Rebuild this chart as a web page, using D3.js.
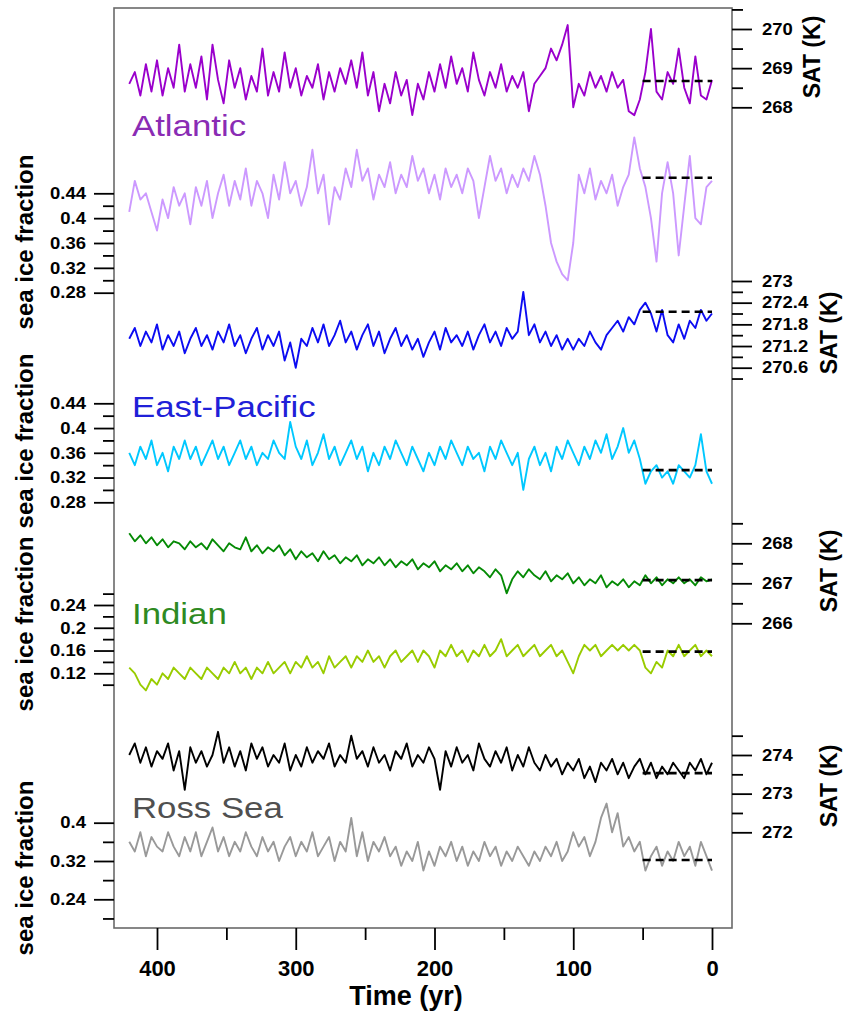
<!DOCTYPE html>
<html><head><meta charset="utf-8">
<script src="https://cdn.jsdelivr.net/npm/d3@7"></script>
<style>
html,body{margin:0;padding:0;background:#fff;}
svg{display:block;}
text{font-family:"Liberation Sans",Arial,sans-serif;}
</style></head><body>
<svg id="chart" width="843" height="1014"></svg>
<script>
// ---------------- DATA ----------------
// sample years, 420 yr ago to present, every 4 years
const years = d3.range(420, -1, -4);
const xTicksMajor = [400, 300, 200, 100, 0];
const xTicksMinor = [350, 250, 150, 50];
const regionNames = ["Atlantic", "East-Pacific", "Indian", "Ross Sea"];

const atlanticSAT = [
268.6,268.9,268.3,269.1,268.4,269.2,268.3,269.0,268.5,269.6,
268.4,269.1,268.5,269.3,268.2,269.6,268.7,268.1,269.2,268.5,
269.0,268.2,268.8,268.4,269.5,268.3,268.9,268.4,269.4,268.5,
269.0,268.3,268.8,268.5,269.1,268.2,268.9,268.4,269.0,268.6,
269.2,268.5,269.4,268.3,268.9,267.9,268.6,268.1,268.9,268.3,
268.7,267.8,268.6,268.2,268.9,268.4,269.1,268.5,269.3,268.6,
269.0,268.4,269.4,268.7,268.3,268.9,268.5,269.1,268.4,268.8,
268.5,268.9,267.9,268.6,268.8,269.0,269.5,269.2,269.6,270.1,
268.0,268.6,268.3,268.9,268.5,268.8,268.4,268.9,268.5,268.7,
267.9,267.8,268.2,268.9,270.0,268.4,268.2,268.9,268.6,269.5,
268.5,268.1,269.3,268.3,268.2,268.7];

const atlanticIce = [
0.41,0.46,0.43,0.44,0.41,0.38,0.43,0.40,0.45,0.42,
0.44,0.39,0.45,0.42,0.46,0.40,0.44,0.47,0.42,0.46,
0.43,0.48,0.42,0.46,0.44,0.40,0.47,0.43,0.49,0.44,
0.46,0.42,0.45,0.51,0.44,0.47,0.39,0.45,0.43,0.48,
0.45,0.51,0.46,0.48,0.43,0.47,0.45,0.49,0.44,0.47,
0.45,0.50,0.46,0.48,0.44,0.47,0.43,0.48,0.45,0.47,
0.44,0.48,0.46,0.40,0.45,0.50,0.46,0.48,0.44,0.47,
0.45,0.48,0.46,0.50,0.47,0.42,0.36,0.33,0.31,0.30,
0.36,0.47,0.44,0.48,0.43,0.46,0.44,0.47,0.42,0.45,
0.47,0.53,0.48,0.45,0.40,0.33,0.44,0.49,0.44,0.34,
0.42,0.50,0.40,0.39,0.45,0.46];

const eastPacificSAT = [
271.4,271.7,271.2,271.6,271.3,271.8,271.1,271.5,271.2,271.6,
271.0,271.4,271.7,271.2,271.5,271.1,271.6,271.3,271.8,271.2,
271.5,271.0,271.4,271.7,271.1,271.5,271.2,271.6,270.8,271.3,
270.6,271.4,271.2,271.7,271.3,271.8,271.2,271.5,271.9,271.3,
271.6,271.1,271.5,271.8,271.2,271.6,271.0,271.4,271.7,271.2,
271.5,271.1,271.4,270.9,271.3,271.6,271.1,271.7,271.3,271.5,
271.2,271.6,271.1,271.5,271.8,271.3,271.6,271.2,271.7,271.4,
271.6,272.7,271.5,271.8,271.3,271.6,271.2,271.5,271.1,271.4,
271.1,271.4,271.2,271.6,271.3,271.1,271.5,271.7,271.9,271.6,
272.0,271.8,272.2,272.4,272.1,271.6,272.2,271.5,271.3,271.8,
271.4,271.9,271.7,272.2,271.9,272.1];

const eastPacificIce = [
0.36,0.34,0.37,0.35,0.38,0.34,0.36,0.33,0.37,0.35,
0.38,0.35,0.37,0.34,0.36,0.38,0.35,0.37,0.34,0.36,
0.38,0.35,0.37,0.34,0.36,0.35,0.38,0.36,0.35,0.41,
0.37,0.35,0.38,0.34,0.36,0.39,0.35,0.37,0.34,0.36,
0.38,0.35,0.37,0.33,0.36,0.34,0.37,0.35,0.38,0.36,
0.34,0.37,0.35,0.33,0.36,0.34,0.37,0.35,0.38,0.36,
0.34,0.37,0.35,0.36,0.33,0.37,0.35,0.38,0.36,0.34,
0.36,0.30,0.35,0.37,0.34,0.36,0.33,0.37,0.35,0.38,
0.36,0.34,0.37,0.35,0.38,0.36,0.39,0.35,0.37,0.40,
0.36,0.38,0.35,0.31,0.33,0.34,0.32,0.33,0.31,0.34,
0.33,0.32,0.34,0.39,0.33,0.31];

const indianSAT = [
268.25,268.05,268.2,268.0,268.15,267.95,268.1,267.9,268.05,268.0,
267.85,268.05,267.9,268.0,267.85,268.1,267.95,267.8,268.0,267.9,
267.85,268.15,267.8,267.95,267.75,267.9,267.8,267.95,267.7,267.85,
267.6,267.8,267.65,267.75,267.55,267.8,267.6,267.7,267.5,267.65,
267.55,267.7,267.45,267.6,267.5,267.65,267.45,267.6,267.4,267.55,
267.45,267.6,267.35,267.5,267.4,267.55,267.3,267.45,267.35,267.5,
267.3,267.45,267.25,267.4,267.3,267.15,267.35,267.2,266.75,267.1,
267.3,267.15,267.35,267.2,267.1,267.3,267.05,267.2,267.1,267.25,
267.0,267.15,266.95,267.1,267.0,267.2,266.9,267.05,266.95,267.1,
266.9,267.05,266.95,267.2,267.0,267.15,266.95,267.1,267.0,267.15,
267.0,267.1,266.95,267.15,267.05,267.1];

const indianIce = [
0.13,0.12,0.10,0.09,0.11,0.10,0.12,0.11,0.13,0.12,
0.11,0.13,0.12,0.11,0.13,0.12,0.11,0.13,0.12,0.14,
0.12,0.13,0.11,0.13,0.12,0.14,0.12,0.13,0.14,0.12,
0.14,0.13,0.15,0.13,0.14,0.12,0.15,0.13,0.14,0.15,
0.13,0.15,0.14,0.16,0.14,0.15,0.13,0.15,0.16,0.14,
0.15,0.16,0.14,0.16,0.15,0.13,0.16,0.15,0.17,0.15,
0.16,0.14,0.16,0.15,0.17,0.15,0.16,0.18,0.15,0.16,
0.17,0.15,0.16,0.17,0.15,0.16,0.17,0.15,0.16,0.14,
0.12,0.15,0.17,0.16,0.17,0.15,0.16,0.17,0.16,0.17,
0.16,0.17,0.16,0.13,0.12,0.14,0.13,0.16,0.15,0.17,
0.15,0.16,0.17,0.15,0.16,0.15];

const rossSAT = [
274.0,274.3,273.8,274.2,273.7,274.1,273.9,274.3,273.6,274.1,
273.1,274.2,273.8,274.1,273.7,274.0,274.6,273.8,274.2,273.7,
274.1,273.6,274.3,273.9,274.2,273.7,274.0,273.8,274.3,273.6,
274.0,273.7,274.2,273.8,274.1,273.9,274.3,273.7,274.0,273.8,
274.5,273.9,274.1,273.7,274.2,273.8,274.0,273.6,274.1,273.9,
274.3,273.7,274.0,273.8,274.2,273.9,273.1,274.1,273.7,274.2,
273.8,274.0,273.6,274.3,273.9,273.7,274.1,273.8,274.2,273.6,
274.0,273.7,274.2,273.8,273.6,274.0,273.7,273.9,273.5,273.8,
273.6,273.9,273.4,273.7,273.3,273.8,273.6,273.9,273.5,273.8,
273.4,273.7,273.9,273.5,273.8,273.4,273.7,273.5,273.8,273.6,
273.4,273.8,273.6,273.9,273.5,273.8];

const rossIce = [
0.36,0.34,0.38,0.33,0.37,0.35,0.34,0.38,0.35,0.33,
0.37,0.34,0.38,0.33,0.36,0.39,0.34,0.37,0.33,0.36,
0.34,0.38,0.35,0.33,0.37,0.34,0.36,0.32,0.35,0.37,
0.33,0.36,0.34,0.38,0.33,0.35,0.37,0.32,0.36,0.34,
0.41,0.33,0.38,0.32,0.36,0.34,0.37,0.33,0.35,0.31,
0.34,0.32,0.36,0.30,0.34,0.31,0.35,0.33,0.36,0.32,
0.35,0.31,0.34,0.32,0.36,0.33,0.35,0.31,0.34,0.32,
0.35,0.33,0.31,0.34,0.32,0.35,0.33,0.36,0.32,0.34,
0.38,0.35,0.37,0.33,0.36,0.41,0.44,0.38,0.42,0.35,
0.37,0.34,0.36,0.30,0.33,0.35,0.31,0.34,0.32,0.36,
0.33,0.35,0.31,0.36,0.33,0.30];

// reference-period means (dashed lines, last 50 years)
const meanLevels = [268.67, 0.465, 272.15, 0.332, 267.08, 0.158, 273.53, 0.322];
const meanSpan = [50, 0];

// ---------------- LAYOUT ----------------
const svg = d3.select("#chart");
const box = {l: 114, r: 732, t: 8, b: 928};
const x = d3.scaleLinear().domain([400, 0]).range([157, 712]);
const fmt = d => String(+d.toFixed(2));

const panels = [
 {vals: atlanticSAT, color: "#9a00cc", side: "right", dom: [268, 270], rng: [107.3, 29],
  major: [268, 269, 270], minor: [268.5, 269.5, 270.5], title: "SAT (K)", tx: 820, ty: 57},
 {vals: atlanticIce, color: "#cc99ff", side: "left", dom: [0.28, 0.44], rng: [292.7, 193.3],
  major: [0.28, 0.32, 0.36, 0.4, 0.44], minor: [0.30, 0.34, 0.38, 0.42], title: "sea ice fraction", tx: 33, ty: 242},
 {vals: eastPacificSAT, color: "#0c0cf2", side: "right", dom: [270.6, 273], rng: [367.7, 281],
  major: [270.6, 271.2, 271.8, 272.4, 273], minor: [270.3, 270.9, 271.5, 272.1, 272.7], title: "SAT (K)", tx: 837, ty: 333},
 {vals: eastPacificIce, color: "#00c8ff", side: "left", dom: [0.28, 0.44], rng: [502.3, 403.3],
  major: [0.28, 0.32, 0.36, 0.4, 0.44], minor: [0.30, 0.34, 0.38, 0.42], title: "sea ice fraction", tx: 33, ty: 441},
 {vals: indianSAT, color: "#058a05", side: "right", dom: [266, 268], rng: [623.3, 543.3],
  major: [266, 267, 268], minor: [266.5, 267.5, 268.5], title: "SAT (K)", tx: 837, ty: 571},
 {vals: indianIce, color: "#99cc00", side: "left", dom: [0.12, 0.24], rng: [673.3, 605],
  major: [0.12, 0.16, 0.2, 0.24], minor: [0.10, 0.14, 0.18, 0.22, 0.26], title: "sea ice fraction", tx: 33, ty: 624},
 {vals: rossSAT, color: "#000000", side: "right", dom: [272, 274], rng: [832.3, 755],
  major: [272, 273, 274], minor: [272.5, 273.5, 274.5], title: "SAT (K)", tx: 837, ty: 786},
 {vals: rossIce, color: "#999999", side: "left", dom: [0.24, 0.40], rng: [899.3, 822.7],
  major: [0.24, 0.32, 0.4], minor: [0.20, 0.28, 0.36], title: "sea ice fraction", tx: 33, ty: 868}
];

const legendStyle = [
 {color: "#8a2cb4", y: 136},
 {color: "#2020d8", y: 417},
 {color: "#2e8a22", y: 624},
 {color: "#505050", y: 818}
];

function stretchText(sel, sx) {
  sel.each(function () {
    const t = d3.select(this);
    const xx = +t.attr("x") || 0;
    t.attr("x", xx / sx).attr("transform", `scale(${sx},1)`);
  });
}

// frame
svg.append("rect")
  .attr("x", box.l).attr("y", box.t)
  .attr("width", box.r - box.l).attr("height", box.b - box.t)
  .attr("fill", "none").attr("stroke", "#6a6a6a").attr("stroke-width", 1.6);

// panels
panels.forEach((p, k) => {
  const y = d3.scaleLinear().domain(p.dom).range(p.rng);
  const line = d3.line().x((d, i) => x(years[i])).y(d => y(d));
  svg.append("path").datum(p.vals)
    .attr("d", line).attr("fill", "none")
    .attr("stroke", p.color).attr("stroke-width", 1.9).attr("stroke-linejoin", "round");

  // dashed reference mean
  svg.append("line")
    .attr("x1", x(meanSpan[0])).attr("x2", x(meanSpan[1]))
    .attr("y1", y(meanLevels[k])).attr("y2", y(meanLevels[k]))
    .attr("stroke", "#000").attr("stroke-width", 2.6).attr("stroke-dasharray", "8,5");

  const right = p.side === "right";
  const ax = right ? d3.axisRight(y) : d3.axisLeft(y);
  const gx = right ? box.r : box.l;
  const gMinor = svg.append("g").attr("transform", `translate(${gx},0)`)
    .call((right ? d3.axisRight(y) : d3.axisLeft(y)).tickValues(p.minor).tickSize(11).tickFormat(""));
  gMinor.select(".domain").remove();
  const g = svg.append("g").attr("transform", `translate(${gx},0)`)
    .call(ax.tickValues(p.major).tickSize(20).tickPadding(right ? 10 : 8).tickFormat(fmt));
  g.select(".domain").remove();
  [g, gMinor].forEach(s => s.selectAll("line").attr("stroke", "#000").attr("stroke-width", 1.8));
  g.selectAll("text").attr("font-size", 16.5).attr("font-weight", "bold").attr("fill", "#000")
    .attr("font-family", "'Liberation Sans', Arial, sans-serif");
  stretchText(g.selectAll("text"), 1.12);

  // axis title
  svg.append("text")
    .attr("transform", `translate(${p.tx},${p.ty}) rotate(-90)`)
    .attr("text-anchor", "middle")
    .attr("font-size", right ? 23 : 24).attr("font-weight", "bold")
    .attr("fill", "#000")
    .text(p.title);
});

// legend labels
regionNames.forEach((name, i) => {
  svg.append("text")
    .attr("transform", `translate(132,${legendStyle[i].y}) scale(1.2,1)`)
    .attr("font-family", "'Open Sans', sans-serif")
    .attr("font-size", 29)
    .attr("fill", legendStyle[i].color)
    .text(name);
});

// x axis
const gxMinor = svg.append("g").attr("transform", `translate(0,${box.b})`)
  .call(d3.axisBottom(x).tickValues(xTicksMinor).tickSize(12).tickFormat(""));
gxMinor.select(".domain").remove();
const gxAxis = svg.append("g").attr("transform", `translate(0,${box.b})`)
  .call(d3.axisBottom(x).tickValues(xTicksMajor).tickSize(22).tickPadding(10).tickFormat(d3.format("d")));
gxAxis.select(".domain").remove();
[gxAxis, gxMinor].forEach(s => s.selectAll("line").attr("stroke", "#000").attr("stroke-width", 1.8));
gxAxis.selectAll("text").attr("font-size", 22).attr("font-weight", "bold").attr("fill", "#000")
  .attr("font-family", "'Liberation Sans', Arial, sans-serif");

svg.append("text")
  .attr("x", 406).attr("y", 1005)
  .attr("text-anchor", "middle")
  .attr("font-size", 27).attr("font-weight", "bold")
  .text("Time (yr)");
</script>
</body></html>
